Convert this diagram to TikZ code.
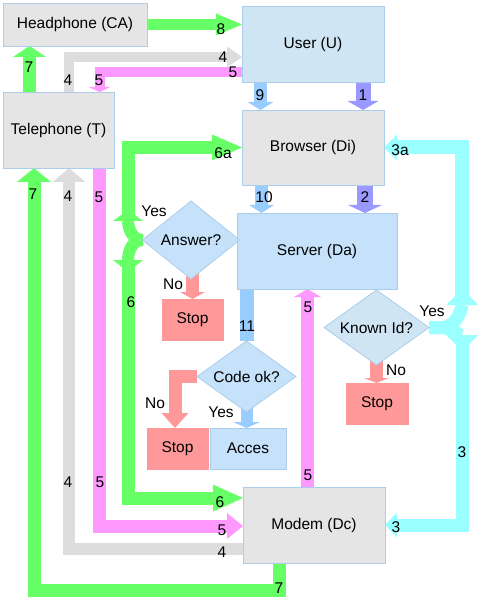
\documentclass[tikz,border=0pt]{standalone}
\usepackage{fontspec}
\setmainfont{Liberation Sans}
\usepackage{tikz}
\usetikzlibrary{arrows.meta,shapes.geometric,positioning,backgrounds,calc}
\usepackage{xcolor}
\definecolor{boxgray}{RGB}{229,229,229}
\definecolor{boxblue}{RGB}{197,226,250}
\definecolor{userblue}{RGB}{207,229,244}
\definecolor{boxline}{RGB}{170,205,235}
\definecolor{stopred}{RGB}{255,153,153}
\definecolor{agreen}{RGB}{102,255,102}
\definecolor{apink}{RGB}{255,153,255}
\definecolor{agray}{RGB}{221,221,221}
\definecolor{apurple}{RGB}{153,153,255}
\definecolor{ablue}{RGB}{153,204,255}
\definecolor{acyan}{RGB}{153,255,255}
\newcommand{\diafont}{\fontsize{15.5}{18}\selectfont}
\tikzstyle{box} = [rectangle, draw=boxline, line width=0.8pt, fill=boxgray,
    inner sep=0pt, outer sep=0pt, font=\diafont]
\tikzstyle{bluebox} = [box, fill=boxblue]
\tikzstyle{stopbox} = [box, draw=stopred, fill=stopred, minimum width=61pt, minimum height=41pt]
\tikzstyle{decide} = [diamond, aspect=1.4, inner sep=0pt, outer sep=0pt, draw=boxline,
    line width=0.8pt, fill=boxblue, font=\diafont]
\tikzstyle{lbl} = [inner sep=0pt, font=\diafont]
\tikzstyle{blk} = [line width=13pt]
\tikzset{bhead/.style 2 args={-{Triangle[width=#1,length=#2,line width=0pt]}}}

\begin{document}
\begin{tikzpicture}[x=1pt, y=-1pt]
\useasboundingbox (0,0) rectangle (478,601);

% boxes
\node[box, minimum width=144pt, minimum height=43pt] (hp) at (75,24.5) {Headphone (CA)};
\node[box, fill=userblue, minimum width=142pt, minimum height=76pt] (us) at (313,44) {User (U)};
\node[box, minimum width=111pt, minimum height=76pt] (tel) at (58.5,130) {Telephone (T)};
\node[box, minimum width=142pt, minimum height=75pt] (br) at (313,147.5) {Browser (Di)};
\node[bluebox, minimum width=160pt, minimum height=76pt] (sv) at (317,251) {Server (Da)};
\node[decide, minimum width=97pt, minimum height=78pt] (ans) at (191,240) {Answer?};
\node[stopbox] (st1) at (192.5,319.5) {Stop};
\node[decide, fill=userblue, minimum width=105pt, minimum height=75pt] (kid) at (376.5,327.5) {Known Id?};
\node[stopbox, minimum width=62pt] (st3) at (377,403.5) {Stop};
\node[decide, minimum width=99pt, minimum height=71pt] (code) at (246.5,376.5) {Code ok?};
\node[stopbox] (st2) at (177.5,448.5) {Stop};
\node[bluebox, minimum width=76pt, minimum height=41pt, right=2pt of st2] (acc) {Acces};
\node[box, minimum width=142pt, minimum height=76pt] (md) at (314,525) {Modem (Dc)};

% split points
\coordinate (cyu) at ($(kid.east)+(33,-38.5)$);
\coordinate (cyd) at ($(kid.east)+(33,23.5)$);
\coordinate (gu) at ($(ans.west)+(-14.5,-30)$);
\coordinate (gd) at ($(ans.west)+(-14.5,32)$);

\begin{scope}[on background layer]
% top
\draw[blk, agreen, line width=11pt, bhead={22pt}{26pt}] (hp.east) -- (hp.east -| us.west);
\draw[blk, agray, line width=10pt, bhead={21pt}{15pt}] ([xshift=10pt]tel.north) |- ($(us.west)+(0,13)$);
\draw[blk, apink, line width=10pt, bhead={22pt}{5pt}] ($(us.west)+(0,28)$) -| ([xshift=41pt]tel.north);
\draw[blk, agreen, bhead={33pt}{11pt}] ([xshift=-29pt]tel.north) -- ([xshift=-29pt]tel.north |- hp.south);
\draw[blk, ablue, bhead={26pt}{8pt}] ([xshift=-52.5pt]us.south) -- ([xshift=-52.5pt]br.north);
\draw[blk, apurple, line width=15pt, bhead={31pt}{9pt}] ([xshift=50pt]us.south) -- ([xshift=50pt]br.north);
\draw[blk, ablue, bhead={25pt}{8pt}] ([xshift=-51.5pt]br.south) -- ([xshift=-51.5pt]br.south |- sv.north);
\draw[blk, apurple, line width=16pt, bhead={34pt}{8pt}] ([xshift=52pt]br.south) -- ([xshift=52pt]br.south |- sv.north);
% known id yes
\draw[blk, acyan, bhead={32pt}{16pt}] (kid.east) -- ++(12,0) to[out=0,in=-90] (cyu);
\draw[blk, acyan, bhead={32pt}{16pt}] (kid.east) -- ++(12,0) to[out=0,in=90] (cyd);
\draw[blk, acyan, line width=14pt, bhead={26pt}{13pt}] ([yshift=-11pt]cyu) |- (br.east);
\draw[blk, acyan, bhead={25pt}{12pt}] ([yshift=11pt]cyd) |- (md.east);
% answer yes
\draw[blk, agreen, line width=12pt, bhead={30pt}{11pt}] (ans.west) to[out=180,in=-90] (gu);
\draw[blk, agreen, line width=12pt, bhead={30pt}{12pt}] (ans.west) to[out=180,in=90] (gd);
\draw[blk, agreen, bhead={26pt}{30pt}] ([yshift=-8pt]gu) |- (br.west);
\draw[blk, agreen, bhead={27pt}{30pt}] ([yshift=8pt]gd) |- ([yshift=27pt]md.west);
% telephone <-> modem
\draw[blk, apink, bhead={26pt}{16pt}] ([xshift=41pt]tel.south) |- ([yshift=-1pt]md.west);
\draw[blk, agray, line width=12pt, bhead={33pt}{14pt}] ([yshift=-24pt]md.west) -| ([xshift=10.5pt]tel.south);
\draw[blk, agreen, bhead={34pt}{14pt}] ([xshift=-34.5pt]md.south) -- ++(0,27) -| ([xshift=-24.5pt]tel.south);
% server side
\draw[blk, apink, bhead={27pt}{8pt}] ([xshift=-6.5pt]md.north) -- ([xshift=-6.5pt]md.north |- sv.south);
\draw[blk, ablue, line width=14pt] (code.north |- sv.south) -- (code.north);
\draw[blk, ablue, line width=12pt, bhead={27pt}{6pt}] ([yshift=8pt]code.south) -- (code.south |- acc.north);
\draw[blk, stopred, bhead={27pt}{15pt}] (code.west) -| ([xshift=-2.5pt]st2.north);
\draw[blk, stopred, bhead={25pt}{7pt}] ($(st1.north |- ans.south)+(0,-6)$) -- (st1.north);
\draw[blk, stopred, bhead={25pt}{5pt}] ($(kid.south)+(0,-4)$) -- (kid.south |- st3.north);
\end{scope}

% labels
\node[lbl] (l8) at (221,29) {8};
\node[lbl] (l4a) at (223,57) {4};
\node[lbl] (l5a) at (233,72) {5};
\node[lbl] (l7a) at (29,67) {7};
\node[lbl] (l4b) at (68,80) {4};
\node[lbl] (l5b) at (99,80) {5};
\node[lbl] (l9) at (260,95) {9};
\node[lbl] (l1) at (363,95) {1};
\node[lbl] (l10) at (264,197) {10};
\node[lbl] (l2) at (365,197) {2};
\node[lbl] (l3a) at (400,150) {3a};
\node[lbl] (l6a) at (223,153) {6a};
\node[lbl] (l7b) at (33,194) {7};
\node[lbl] (l4c) at (68,196) {4};
\node[lbl] (l5c) at (99,197) {5};
\node[lbl] (yes1) at (154,211) {Yes};
\node[lbl] (no1) at (173,284) {No};
\node[lbl] (l6) at (131,302) {6};
\node[lbl] (l5d) at (308,307) {5};
\node[lbl] (l11) at (247,326) {11};
\node[lbl] (yes2) at (432,311) {Yes};
\node[lbl] (no2) at (396,370) {No};
\node[lbl] (no3) at (155,403) {No};
\node[lbl] (yes3) at (221,412) {Yes};
\node[lbl] (l3) at (462,452) {3};
\node[lbl] (l5e) at (308,475) {5};
\node[lbl] (l4d) at (68,482) {4};
\node[lbl] (l5f) at (100,482) {5};
\node[lbl] (l6b) at (220,502) {6};
\node[lbl] (l5g) at (222,530) {5};
\node[lbl] (l4e) at (222,552) {4};
\node[lbl] (l3b) at (396,527) {3};
\node[lbl] (l7c) at (279,588) {7};
\end{tikzpicture}
\end{document}
